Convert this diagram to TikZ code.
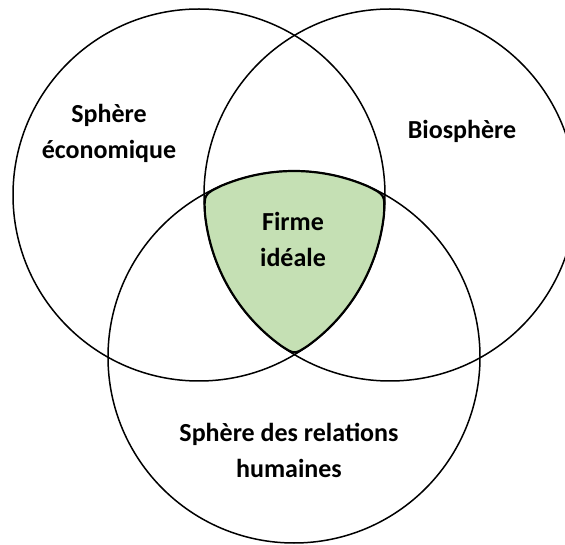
\documentclass[tikz,border=0pt]{standalone}
\usepackage{fontspec}
\setmainfont{Carlito}
\definecolor{idealgreen}{HTML}{C5E0B4}
\begin{document}
\begin{tikzpicture}[x=1pt,y=1pt,
    sphereline/.style={line width=1.5pt},
    spheretext/.style={font=\bfseries\fontsize{26}{36}\selectfont,align=center,inner sep=0pt}]
    \clip (0,0) rectangle (565,544);
    % centres of the three spheres
    \coordinate (eco) at (199,349);
    \coordinate (bio) at (390,349);
    \coordinate (hum) at (294,187);
    \begin{scope}[sphereline]
        \draw (eco) circle[radius=186];
        \draw (bio) circle[radius=186];
        \draw (hum) circle[radius=186];
    \end{scope}
    % ideal firm, common part of the three spheres, corners rounded
    \coordinate (top) at (294,373);
    \coordinate (vtl) at (204,349.8);
    \coordinate (vtr) at (385,349.2);
    \coordinate (vbot) at (294.5,189.4);
    \filldraw[fill=idealgreen,line width=2.2pt,line cap=round,line join=round]
        (top) arc[start angle=90,end angle=66.7,radius=186]
        .. controls (vtr) .. ([shift={(-6:186)}]eco)
        arc[start angle=-6,end angle=-54.1,radius=186]
        .. controls (vbot) .. ([shift={(234.1:186)}]bio)
        arc[start angle=234.1,end angle=185.75,radius=186]
        .. controls (vtl) .. ([shift={(112.94:186)}]hum)
        arc[start angle=112.94,end angle=90,radius=186];
    \node[spheretext] (ecotext) at (109,410.6) {Sphère\\économique};
    \node[spheretext,anchor=base] (biotext) at (462,405) {Biosphère};
    \node[spheretext] (firme) at (293,305) {Firme\\idéale};
    \node[spheretext] (humtext) at (289,93.7) {Sphère des relations\\humaines};
\end{tikzpicture}
\end{document}
